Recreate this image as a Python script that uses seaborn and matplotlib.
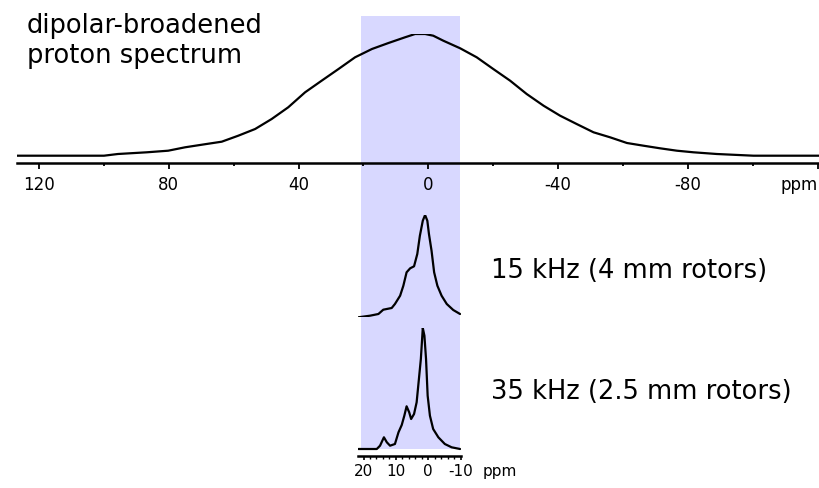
import numpy as np
import pandas as pd
import seaborn as sns
import matplotlib.pyplot as plt

# values (ppm vs. intensity, arbitrary units)
broad_ppm = [127.4, 100.0, 95.7, 86.8, 80.2, 75.0, 70.4, 68.8, 63.7, 58.6, 53.4, 48.3,
             43.2, 38.0, 32.9, 27.7, 22.6, 17.4, 12.3, 7.2, 4.1, 1.0, -1.5, -4.6, -9.8,
             -14.9, -20.0, -25.2, -30.3, -35.5, -40.6, -45.7, -50.9, -56.0, -61.2, -66.3,
             -71.4, -76.6, -81.7, -88.9, -100.2, -120.4]
broad_int = [0, 0, 1.7, 3.4, 5.0, 8.4, 10.7, 11.5, 14.0, 20.0, 26.7, 36.7,
             48.4, 63.4, 75.0, 86.7, 98.4, 106.7, 112.7, 118.4, 121.7, 121.7, 120.0, 115.0, 107.4,
             98.4, 86.7, 75.0, 61.7, 50.0, 40.0, 31.7, 23.4, 18.4, 12.7, 10.0,
             7.4, 5.0, 3.4, 1.7, 0, 0]

mas15_ppm = [21.6, 18.0, 15.4, 13.9, 11.3, 10.3, 8.7, 7.7, 6.7, 5.6, 4.4, 3.4, 2.6, 1.7,
             1.0, 0.3, -0.2, -1.0, -1.8, -2.8, -4.1, -5.7, -7.7, -9.8]
mas15_int = [0, 1.6, 3.3, 7.6, 9.3, 13.3, 21.6, 31.6, 45.0, 49.0, 51.0, 63.3, 81.6, 96.6,
             102.3, 96.6, 83.3, 66.6, 45.0, 31.6, 21.6, 13.3, 7.3, 3.3]

mas35_ppm = [21.6, 15.9, 14.9, 13.7, 12.8, 11.8, 10.3, 9.2, 8.2, 7.4, 6.7, 5.9, 5.3, 4.4,
             3.6, 2.8, 2.3, 1.7, 1.2, 0.7, 0.2, -0.5, -1.5, -3.1, -5.1, -7.2, -9.8]
mas35_int = [0, 0, 3.3, 11.7, 6.7, 3.3, 5.0, 16.7, 24.0, 33.3, 42.7, 36.7, 30.0, 35.0,
             46.7, 73.3, 90.0, 121.0, 113.3, 90.0, 53.3, 33.3, 20.0, 11.7, 5.0, 1.7, 0]

top_ticks = [120, 80, 40, 0, -40, -80, -120]
top_labels = ['120', '80', '40', '0', '-40', '-80', '']
sub_ticks = [20, 10, 0, -10]
sub_labels = ['20', '10', '0', '-10']
band = (20.8, -9.6)

title_lines = ['dipolar-broadened', 'proton spectrum']
rotor_labels = ['15 kHz (4 mm rotors)', '35 kHz (2.5 mm rotors)']

sns.set_style('white')
plt.rcParams['font.family'] = ['DejaVu Sans']
plt.rcParams['text.color'] = 'black'
plt.rcParams['xtick.color'] = 'black'

W, H = 819, 489
fig = plt.figure(figsize=(W / 100, H / 100), dpi=100, facecolor='white')


def px_axes(x0, x1, y0, y1, **kw):
    # axes from pixel box (y measured from the top)
    return fig.add_axes([x0 / W, 1 - y1 / H, (x1 - x0) / W, (y1 - y0) / H], **kw)


top_xlim = (126.8, -120.4)
sub_xlim = (21.7, -10.0)

# background axes holding the shaded window
bg = px_axes(17, 819, 0, 489)
bg.set_xlim(*top_xlim)
bg.axvspan(band[0], band[1], ymin=1 - 450 / H, ymax=1 - 16.7 / H,
           color='#d8d8ff', lw=0)
bg.axis('off')

line_kw = dict(color='black', linewidth=1.6, legend=False)

# broad static spectrum
ax = px_axes(17, 819, 35, 164)
ax.patch.set_alpha(0)
df = pd.DataFrame({'ppm': broad_ppm, 'int': broad_int})
sns.lineplot(data=df, x='ppm', y='int', ax=ax, **line_kw)
ax.set_xlim(*top_xlim)
ax.set_ylim(-7.3, 121.7)
for s in ['top', 'left', 'right']:
    ax.spines[s].set_visible(False)
ax.spines['bottom'].set_linewidth(1.8)
ax.spines['bottom'].set_color('black')
ax.set_yticks([])
ax.set_xticks(top_ticks)
ax.set_xticklabels(top_labels, fontsize=12)
ax.set_xticks([100, 60, 20, -20, -60, -100], minor=True)
ax.tick_params(axis='x', which='major', bottom=True, length=4.5, width=1.3,
               pad=4, colors='black')
ax.tick_params(axis='x', which='minor', bottom=True, length=2.5, width=1.3,
               colors='black')
ax.set_xlabel('')
ax.set_ylabel('')
fig.text(818 / W, 1 - 185 / H, 'ppm', fontsize=12, ha='right', va='center')

# 15 kHz MAS spectrum
ax15 = px_axes(358, 460.7, 216, 318.3)
ax15.patch.set_alpha(0)
df15 = pd.DataFrame({'ppm': mas15_ppm, 'int': mas15_int})
sns.lineplot(data=df15, x='ppm', y='int', ax=ax15, **line_kw)
ax15.set_xlim(*sub_xlim)
ax15.set_ylim(0, 102.3)
ax15.axis('off')

# 35 kHz MAS spectrum
ax35 = px_axes(358, 460.7, 329, 457.3)
ax35.patch.set_alpha(0)
df35 = pd.DataFrame({'ppm': mas35_ppm, 'int': mas35_int})
sns.lineplot(data=df35, x='ppm', y='int', ax=ax35, **line_kw)
ax35.set_xlim(*sub_xlim)
ax35.set_ylim(-7.3, 121.0)
for s in ['top', 'left', 'right']:
    ax35.spines[s].set_visible(False)
ax35.spines['bottom'].set_linewidth(1.8)
ax35.spines['bottom'].set_color('black')
ax35.set_yticks([])
ax35.set_xticks(sub_ticks)
ax35.set_xticklabels(sub_labels, fontsize=11)
ax35.set_xticks(np.arange(20, -11, -2), minor=True)
ax35.tick_params(axis='x', which='major', bottom=True, length=3, width=1.2,
                 pad=2, colors='black')
ax35.tick_params(axis='x', which='minor', bottom=True, length=2, width=1,
                 colors='black')
ax35.set_xlabel('')
ax35.set_ylabel('')
ax35.text(-22.1, -14.5 / 128.3, 'ppm', transform=ax35.get_xaxis_transform(),
          ha='center', va='center', fontsize=11)

# annotations
fig.text(27 / W, 1 - 32.7 / H, title_lines[0], fontsize=18.5, va='baseline')
fig.text(27 / W, 1 - 63.3 / H, title_lines[1], fontsize=18.5, va='baseline')
fig.text(491 / W, 1 - 278.3 / H, rotor_labels[0], fontsize=18.5, va='baseline')
fig.text(491 / W, 1 - 399.5 / H, rotor_labels[1], fontsize=18.5, va='baseline')

fig.savefig('out.png', dpi=100, facecolor='white')
